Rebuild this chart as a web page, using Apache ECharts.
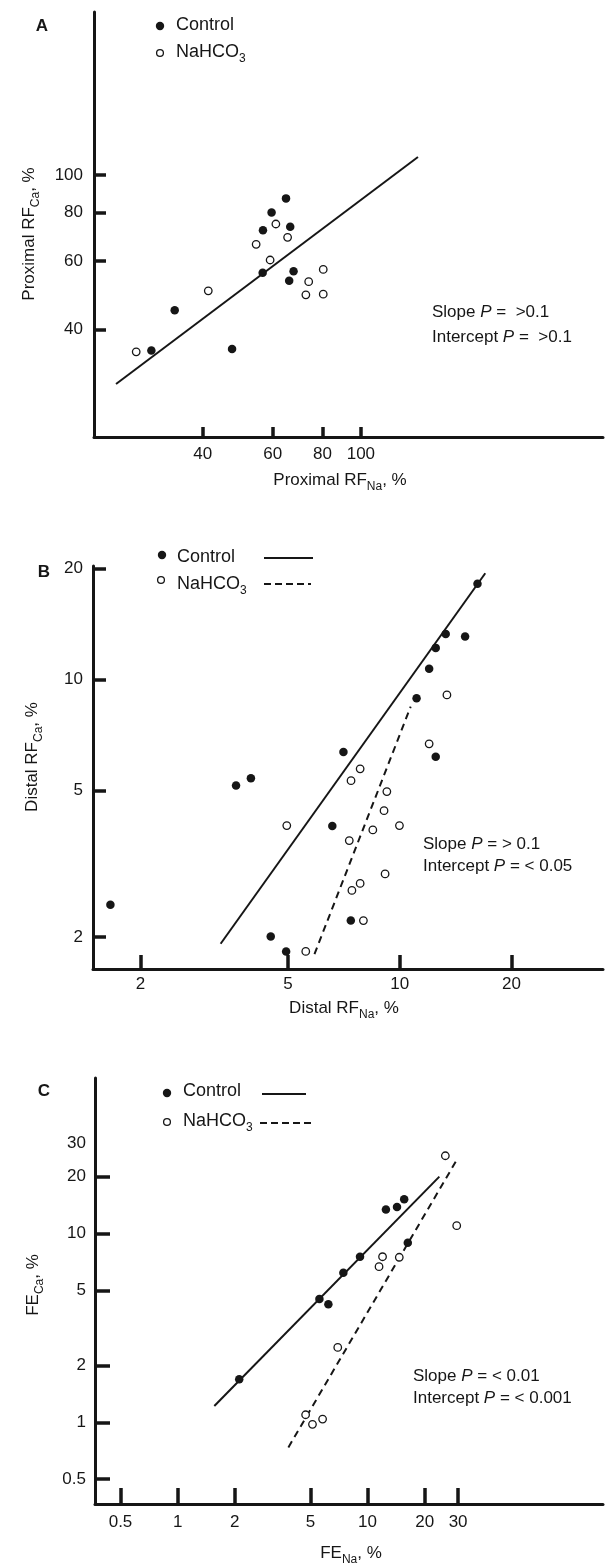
<!DOCTYPE html>
<html><head><meta charset="utf-8">
<script src="https://cdn.jsdelivr.net/npm/echarts@6/dist/echarts.min.js"></script>
<style>html,body{margin:0;padding:0;background:#fff}#c{width:606px;height:1564px}</style>
</head><body><div id="c"></div>
<script>
// ---------- Panel A : Proximal RF ----------
const aControl = [[64.8,87.1],[59.6,80.1],[56.7,72.1],[66.4,73.6],[56.6,56.0],[67.7,56.5],[66.0,53.4],[34.0,44.8],[29.7,35.3],[47.4,35.6]];
const aNaHCO3  = [[61.1,74.8],[65.4,69.1],[54.5,66.3],[59.1,60.4],[80.4,57.1],[73.9,53.1],[72.7,49.1],[80.4,49.3],[41.3,50.3],[27.2,35.0]];
const aFitControl = [[24.2,28.9],[139.2,111.4]];
const aXTicks = [40,60,80,100];
const aYTicks = [40,60,80,100];

// ---------- Panel B : Distal RF ----------
const bControl = [[16.2,18.2],[13.3,13.3],[15.0,13.1],[12.5,12.2],[12.0,10.7],[11.1,8.9],[7.05,6.36],[12.5,6.18],[3.62,5.16],[3.97,5.40],[6.58,4.01],[1.66,2.45],[4.49,2.01],[4.94,1.83],[7.38,2.22]];
const bNaHCO3  = [[13.4,9.09],[12.0,6.70],[7.39,5.32],[7.82,5.73],[9.23,4.97],[9.07,4.41],[4.96,4.02],[8.46,3.91],[9.98,4.02],[7.31,3.66],[9.13,2.97],[7.82,2.80],[7.43,2.68],[7.98,2.22],[5.58,1.83]];
const bFitControl = [[3.29,1.92],[17.0,19.45]];
const bFitNaHCO3  = [[5.89,1.80],[10.7,8.45]];
const bXTicks = [2,5,10,20];
const bYTicks = [2,5,10,20];

// ---------- Panel C : FE ----------
const cControl = [[12.5,13.4],[14.3,13.8],[15.6,15.2],[16.3,8.94],[9.13,7.53],[7.46,6.20],[5.58,4.50],[6.22,4.22],[2.11,1.69]];
const cNaHCO3  = [[25.7,25.8],[29.5,11.0],[12.0,7.53],[11.5,6.67],[14.7,7.48],[6.97,2.49],[4.72,1.096],[5.13,0.975],[5.80,1.04]];
const cFitControl = [[1.56,1.22],[23.9,20.0]];
const cFitNaHCO3  = [[3.83,0.736],[29.5,24.5]];
const cXTicks = [0.5,1,2,5,10,20,30];
const cYTickMarks = [0.5,1,2,5,10,20];
const cYTickLabels = [0.5,1,2,5,10,20,30];

const legendNames = ['Control', 'NaHCO{sub|3}'];
const statsA = ['Slope {i|P} =  >0.1', 'Intercept {i|P} =  >0.1'];
const statsB = ['Slope {i|P} = > 0.1', 'Intercept {i|P} = < 0.05'];
const statsC = ['Slope {i|P} = < 0.01', 'Intercept {i|P} = < 0.001'];

const FONT = '"Liberation Sans", Arial, sans-serif';
const INK = '#161616';

const chart = echarts.init(document.getElementById('c'), null, {renderer: 'canvas'});

function fmt(v){ return String(+Number(v).toPrecision(4)); }

function ax(gi, min, max, ticks, labels, len, margin){
  return {type:'log', logBase:10, gridIndex:gi, min:min, max:max,
    axisLine:{show:true, onZero:false, lineStyle:{color:INK, width:3}},
    axisTick:{show:true, inside:true, length:len, customValues:ticks, lineStyle:{color:INK, width:3.5}},
    axisLabel:{show:true, customValues:labels, margin:margin, fontSize:17, fontFamily:FONT, color:INK, formatter:fmt},
    splitLine:{show:false}, minorTick:{show:false}, minorSplitLine:{show:false}};
}

const rich = {
  sub:{fontSize:12, fontFamily:FONT, fill:INK, color:INK, verticalAlign:'bottom', lineHeight:14},
  i:{fontSize:17, fontFamily:FONT, fontStyle:'italic', fill:INK, color:INK}
};
function T(x, y, text, size, opts){
  opts = opts || {};
  return {type:'text', x:x, y:y, rotation:opts.rot||0, silent:true,
    style:{text:text, fontSize:size, fontFamily:FONT, fontWeight:opts.bold?'bold':'normal', fill:INK,
      align:opts.align||'left', verticalAlign:'middle', textAlign:opts.align||'left', textVerticalAlign:'middle',
      lineHeight:26, rich:rich}};
}
function dot(cx, cy, filled){
  return {type:'circle', shape:{cx:cx, cy:cy, r: filled?4.2:3.4}, silent:true,
    style:{fill: filled?INK:'#fff', stroke:INK, lineWidth: filled?0:1.3}};
}
function seg(x1, x2, y, dashed){
  return {type:'line', shape:{x1:x1, y1:y, x2:x2, y2:y}, silent:true,
    style:{stroke:INK, lineWidth:2, lineDash: dashed?[7,4]:null}};
}

function scat(xi, data, filled){
  return {type:'scatter', xAxisIndex:xi, yAxisIndex:xi, data:data, symbol:'circle',
    symbolSize: filled?8.5:7.5, z:3, silent:true,
    itemStyle: filled?{color:INK, opacity:1}:{color:'#fff', borderColor:INK, borderWidth:1.3, opacity:1}};
}
function fit(xi, data, dashed){
  return {type:'line', xAxisIndex:xi, yAxisIndex:xi, data:data, symbol:'none', showSymbol:false, z:2, silent:true,
    lineStyle:{color:INK, width:2, opacity:1, type: dashed?[7,5]:'solid'}};
}

const option = {
  animation:false,
  backgroundColor:'#fff',
  grid:[
    {left:94, top:12, width:509, height:425, outerBoundsMode:'none', containLabel:false},
    {left:93, top:566, width:510, height:403, outerBoundsMode:'none', containLabel:false},
    {left:95, top:1078, width:508, height:426, outerBoundsMode:'none', containLabel:false}
  ],
  xAxis:[
    ax(0, 21.3, 406.7, aXTicks, aXTicks, 10, 9),
    ax(1, 1.49, 35.3, bXTicks, bXTicks, 14, 7),
    ax(2, 0.367, 173.9, cXTicks, cXTicks, 16, 10)
  ],
  yAxis:[
    ax(0, 21.1, 263.6, aYTicks, aYTicks, 12, 11),
    ax(1, 1.64, 20.35, bYTicks, bYTicks, 13, 10),
    ax(2, 0.369, 66.6, cYTickMarks, cYTickLabels, 15, 9)
  ],
  series:[
    fit(0, aFitControl, false), scat(0, aControl, true), scat(0, aNaHCO3, false),
    fit(1, bFitControl, false), fit(1, bFitNaHCO3, true), scat(1, bControl, true), scat(1, bNaHCO3, false),
    fit(2, cFitControl, false), fit(2, cFitNaHCO3, true), scat(2, cControl, true), scat(2, cNaHCO3, false)
  ],
  graphic:[
    // panel A
    T(42, 26, 'A', 17, {bold:true, align:'center'}),
    dot(160, 26, true), T(176, 25, legendNames[0], 18),
    dot(160, 53, false), T(176, 52, legendNames[1], 18),
    T(432, 312, statsA[0], 17), T(432, 337, statsA[1], 17),
    T(340, 480, 'Proximal RF{sub|Na}, %', 17, {align:'center'}),
    T(29, 234, 'Proximal RF{sub|Ca}, %', 17, {align:'center', rot:Math.PI/2}),
    // panel B
    T(44, 572, 'B', 17, {bold:true, align:'center'}),
    dot(162, 555, true), T(177, 557, legendNames[0], 18), seg(264, 313, 558, false),
    dot(161, 580, false), T(177, 584, legendNames[1], 18), seg(264, 311, 584, true),
    T(423, 844, statsB[0], 17), T(423, 866, statsB[1], 17),
    T(344, 1008, 'Distal RF{sub|Na}, %', 17, {align:'center'}),
    T(32, 757, 'Distal RF{sub|Ca}, %', 17, {align:'center', rot:Math.PI/2}),
    // panel C
    T(44, 1091, 'C', 17, {bold:true, align:'center'}),
    dot(167, 1093, true), T(183, 1091, legendNames[0], 18), seg(262, 306, 1094, false),
    dot(167, 1122, false), T(183, 1121, legendNames[1], 18), seg(260, 311, 1123, true),
    T(413, 1376, statsC[0], 17), T(413, 1398, statsC[1], 17),
    T(351, 1553, 'FE{sub|Na}, %', 17, {align:'center'}),
    T(33, 1285, 'FE{sub|Ca}, %', 17, {align:'center', rot:Math.PI/2})
  ]
};
chart.setOption(option);
</script>
</body></html>
